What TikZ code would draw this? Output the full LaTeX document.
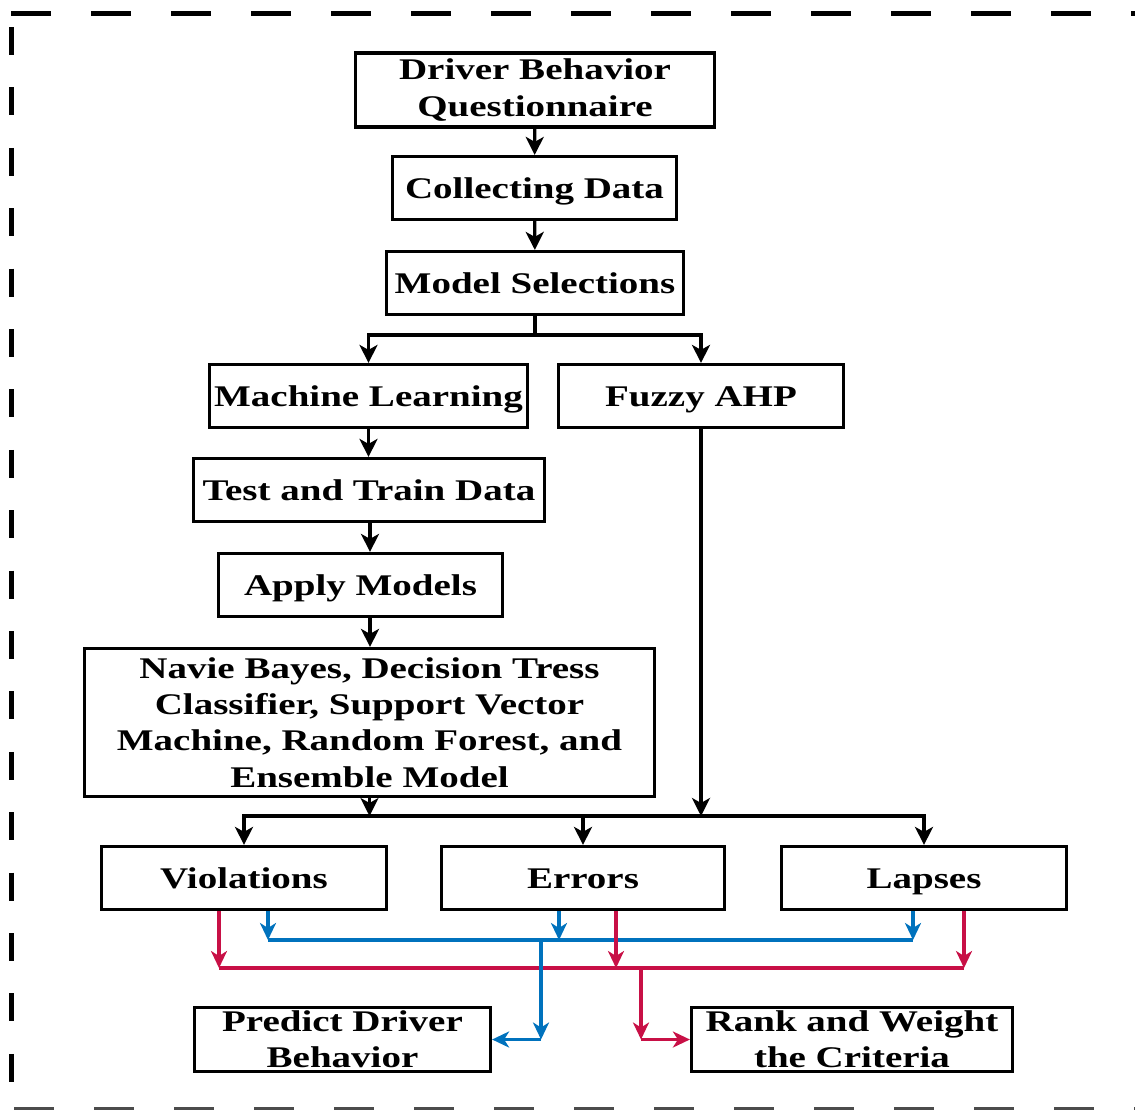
\documentclass[tikz,border=0pt]{standalone}
\usepackage{fontspec}
\setmainfont{Liberation Serif}[FakeStretch=1.3]
\usetikzlibrary{arrows.meta}
\definecolor{myblue}{RGB}{0,114,189}
\definecolor{myred}{RGB}{200,16,70}
\begin{document}
\begin{tikzpicture}[x=1pt,y=-1pt,
  box/.style={draw, line width=3.2pt, inner sep=0pt, align=center,
    font=\fontsize{30}{36.3}\selectfont\bfseries},
  one/.style={box, text height=25pt, text depth=4pt},
  ln/.style={line width=3.2pt},
  arr/.style={line width=3.2pt, -{Stealth[length=18pt,width=18pt,inset=5pt]}},
  bln/.style={myblue, line width=3.5pt},
  barr/.style={myblue, line width=3.5pt, -{Stealth[length=17pt,width=16pt,inset=5pt]}},
  rln/.style={myred, line width=3.5pt},
  rarr/.style={myred, line width=3.5pt, -{Stealth[length=17pt,width=16pt,inset=5pt]}},
  frame/.style={line width=5pt}
]
\useasboundingbox (0,0) rectangle (1135,1109);

% dashed frame
\begin{scope}
\clip (0,0) rectangle (1135,1109);
\draw[frame, dash pattern=on 40pt off 40pt] (11,13) -- (1200,13);
\draw[frame, dash pattern=on 28pt off 32.4pt] (11,27) -- (11,1083);
\draw[frame, black!70, dash pattern=on 40pt off 40pt] (14,1109) -- (1200,1109);
\end{scope}

% nodes
\node[box, minimum width=359pt, minimum height=74pt] (q)  at (535,90) {Driver Behavior\\Questionnaire};
\node[one, minimum width=284pt, minimum height=63pt] (cd) at (534.5,188) {Collecting Data};
\node[one, minimum width=297pt, minimum height=63pt] (ms) at (535,283) {Model Selections};
\node[one, minimum width=318pt, minimum height=63pt] (ml) at (368.5,396) {Machine Learning};
\node[one, minimum width=285pt, minimum height=63pt] (fa) at (701,396) {Fuzzy AHP};
\node[one, minimum width=351pt, minimum height=63pt] (tt) at (369,490) {Test and Train Data};
\node[one, minimum width=284pt, minimum height=63pt] (am) at (360.5,585) {Apply Models};
\node[box, minimum width=570pt, minimum height=148pt] (big) at (369.5,722.5)
  {Navie Bayes, Decision Tress\\Classifier, Support Vector\\Machine, Random Forest, and\\Ensemble Model};
\node[one, minimum width=285pt, minimum height=63pt] (vi) at (244,878) {Violations};
\node[one, minimum width=283pt, minimum height=63pt] (er) at (583,878) {Errors};
\node[one, minimum width=285pt, minimum height=63pt] (la) at (924,878) {Lapses};
\node[box, minimum width=296pt, minimum height=64pt] (pr) at (342.5,1039.5) {Predict Driver\\Behavior};
\node[box, minimum width=321pt, minimum height=64pt] (rk) at (852,1039.5) {Rank and Weight\\the Criteria};

% junction coordinates
\coordinate (fork) at (535,335);
\coordinate (bus) at (0,816);
\coordinate (mlx) at (370,0);
\coordinate (bV) at (268,940);
\coordinate (bE) at (559,940);
\coordinate (bL) at (913,940);
\coordinate (bC) at (541,940);
\coordinate (rV) at (219,968);
\coordinate (rE) at (616,968);
\coordinate (rL) at (964,968);
\coordinate (rC) at (641,968);

% black connectors
\draw[arr] (q) -- (cd);
\draw[arr] (cd) -- (ms);
\draw[ln] (ms.south) -- (fork);
\draw[ln, line cap=rect] (ml.north |- fork) -- (fa.north |- fork);
\draw[arr] (ml.north |- fork) -- (ml.north);
\draw[arr] (fa.north |- fork) -- (fa.north);
\draw[arr] (ml.south) -- (ml.south |- tt.north);
\draw[arr] (mlx |- tt.south) -- (mlx |- am.north);
\draw[arr] (mlx |- am.south) -- (mlx |- big.north);
\draw[arr] (big.south) -- (big.south |- bus);
\draw[arr] (fa.south) -- (fa.south |- bus);
\draw[ln, line cap=rect] (vi.north |- bus) -- (la.north |- bus);
\draw[arr] (vi.north |- bus) -- (vi.north);
\draw[arr] (er.north |- bus) -- (er.north);
\draw[arr] (la.north |- bus) -- (la.north);

% blue connectors
\draw[barr] (bV |- vi.south) -- (bV);
\draw[barr] (bE |- er.south) -- (bE);
\draw[barr] (bL |- la.south) -- (bL);
\draw[bln] (bV) -- (bL);

% red connectors
\draw[rarr] (rV |- vi.south) -- (rV);
\draw[rarr] (rE |- er.south) -- (rE);
\draw[rarr] (rL |- la.south) -- (rL);
\draw[rln] (rV) -- (rL);
\draw[rarr] (rC) -- (rC |- rk.west);
\draw[rarr] (rC |- rk.west) -- (rk.west);

\draw[barr] (bC) -- (bC |- pr.east);
\draw[barr] (bC |- pr.east) -- (pr.east);
\end{tikzpicture}
\end{document}
